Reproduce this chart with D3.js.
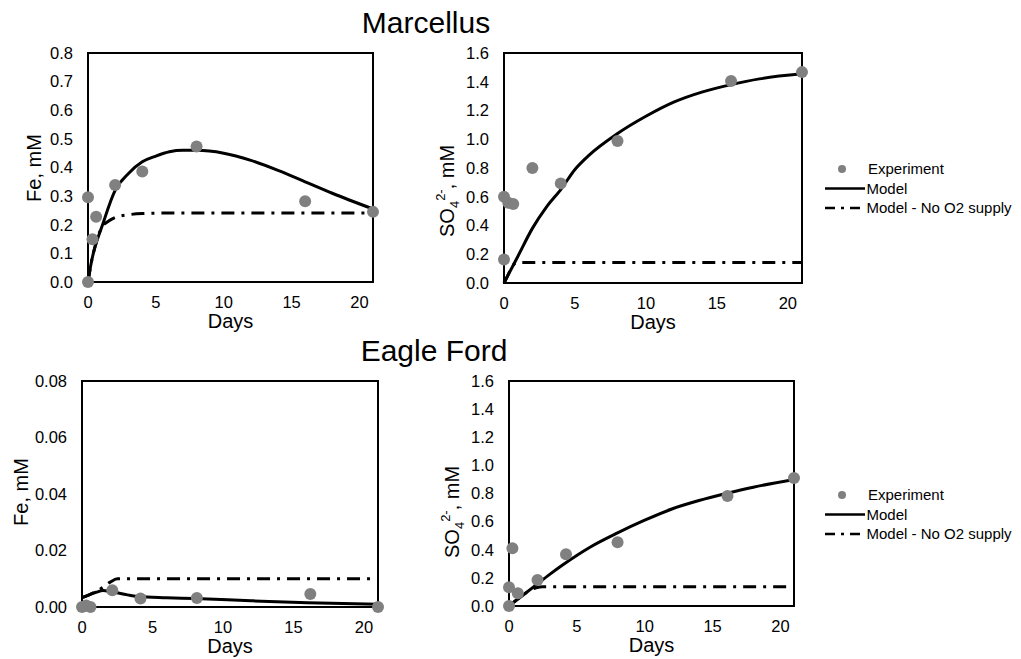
<!DOCTYPE html>
<html>
<head>
<meta charset="utf-8">
<script src="https://cdn.jsdelivr.net/npm/d3@7.9.0/dist/d3.min.js"></script>
<style>
  body { margin: 0; background: #fff; }
  svg { font-family: "Liberation Sans", Arial, sans-serif; }
</style>
</head>
<body>
<svg id="chart" width="1021" height="659"></svg>
<script>
// ---- data ----
const xTicks = [0, 5, 10, 15, 20];

// Marcellus, Fe
const marFeDays = [0, 0, 0.33, 0.6, 2, 4, 8, 16, 21];
const marFeExp = [0.296, 0, 0.149, 0.228, 0.339, 0.386, 0.473, 0.282, 0.245];
const marFeModelDays = [0, 0.25, 0.5, 1, 2, 3, 4, 5, 6, 7, 8, 10, 12, 14, 16, 18, 21];
const marFeModel = [0, 0.07, 0.12, 0.19, 0.32, 0.38, 0.42, 0.44, 0.455, 0.46, 0.46, 0.45, 0.425, 0.39, 0.35, 0.31, 0.255];
const marFeNoO2Days = [0, 0.25, 0.5, 0.75, 1, 1.5, 2, 3, 4, 6, 21];
const marFeNoO2 = [0, 0.07, 0.12, 0.16, 0.19, 0.212, 0.225, 0.235, 0.239, 0.241, 0.241];

// Marcellus, SO4
const marSo4Days = [0, 0, 0.3, 0.65, 2, 4, 8, 16, 21];
const marSo4Exp = [0.6, 0.163, 0.558, 0.55, 0.8, 0.693, 0.988, 1.406, 1.467];
const marSo4ModelDays = [0, 1, 2, 3, 4, 5, 6, 8, 10, 12, 14, 16, 18, 21];
const marSo4Model = [0, 0.19, 0.38, 0.53, 0.65, 0.79, 0.89, 1.04, 1.16, 1.26, 1.33, 1.38, 1.42, 1.455];
const marSo4NoO2Days = [0, 0.25, 0.5, 0.75, 1, 21];
const marSo4NoO2 = [0, 0.05, 0.1, 0.135, 0.142, 0.142];

// Eagle Ford, Fe
const efFeDays = [0, 0.3, 0.6, 2.15, 4.15, 8.15, 16.2, 21];
const efFeExp = [0, 0.0005, 0, 0.0059, 0.003, 0.0032, 0.0046, 0];
const efFeModelDays = [0, 0.5, 1, 1.5, 2, 3, 4, 6, 8, 12, 16, 21];
const efFeModel = [0.0033, 0.0043, 0.0052, 0.0058, 0.0055, 0.0045, 0.0037, 0.0033, 0.003, 0.0022, 0.0015, 0.001];
const efFeNoO2Days = [0, 0.5, 1, 1.5, 2, 2.5, 21];
const efFeNoO2 = [0.0033, 0.0043, 0.0055, 0.007, 0.0088, 0.01, 0.01];

// Eagle Ford, SO4
const efSo4Days = [0, 0, 0.25, 0.65, 2.1, 4.2, 8, 16.1, 21];
const efSo4Exp = [0, 0.133, 0.41, 0.09, 0.185, 0.368, 0.454, 0.783, 0.91];
const efSo4ModelDays = [0, 1, 2, 3, 4, 6, 8, 10, 12, 14, 16, 18, 21];
const efSo4Model = [0, 0.075, 0.15, 0.225, 0.295, 0.42, 0.52, 0.61, 0.69, 0.75, 0.8, 0.845, 0.9];
const efSo4NoO2Days = [0, 0.5, 1, 1.5, 2, 2.5, 21];
const efSo4NoO2 = [0, 0.04, 0.075, 0.11, 0.13, 0.137, 0.137];

const legendLabels = ['Experiment', 'Model', 'Model - No O2 supply'];

// ---- layout ----
const svg = d3.select('#chart');
const grey = '#808080';
const dashDot = '13,7,3,7';

const panels = [
  { left: 88, right: 373, top: 53, bottom: 282, ymax: 0.8, step: 0.1, fmt: '.1f',
    exp: [marFeDays, marFeExp], model: [marFeModelDays, marFeModel], noO2: [marFeNoO2Days, marFeNoO2],
    label: 'fe', lx: 41, ly: 168 },
  { left: 504, right: 802, top: 53, bottom: 283, ymax: 1.6, step: 0.2, fmt: '.1f',
    exp: [marSo4Days, marSo4Exp], model: [marSo4ModelDays, marSo4Model], noO2: [marSo4NoO2Days, marSo4NoO2],
    label: 'so4', lx: 454, ly: 237 },
  { left: 82, right: 378, top: 381, bottom: 607, ymax: 0.08, step: 0.02, fmt: '.2f',
    exp: [efFeDays, efFeExp], model: [efFeModelDays, efFeModel], noO2: [efFeNoO2Days, efFeNoO2],
    label: 'fe', lx: 28, ly: 492 },
  { left: 509, right: 794, top: 381, bottom: 606, ymax: 1.6, step: 0.2, fmt: '.1f',
    exp: [efSo4Days, efSo4Exp], model: [efSo4ModelDays, efSo4Model], noO2: [efSo4NoO2Days, efSo4NoO2],
    label: 'so4', lx: 459, ly: 558 }
];

const zip = (a, b) => a.map((d, i) => [d, b[i]]);

panels.forEach(p => {
  const x = d3.scaleLinear().domain([0, 21]).range([p.left, p.right]);
  const y = d3.scaleLinear().domain([0, p.ymax]).range([p.bottom, p.top]);
  const g = svg.append('g');

  // frame
  g.append('rect')
    .attr('x', p.left).attr('y', p.top)
    .attr('width', p.right - p.left).attr('height', p.bottom - p.top)
    .attr('fill', 'none').attr('stroke', '#000').attr('stroke-width', 2);

  // y ticks
  const yt = d3.range(0, p.ymax + p.step / 2, p.step);
  g.selectAll('.yt').data(yt).join('text')
    .attr('x', p.left - 15).attr('y', d => y(d)).attr('dy', '0.35em')
    .attr('text-anchor', 'end').attr('font-size', 16.5).attr('fill', '#000')
    .text(d => d3.format(p.fmt)(d));

  // x ticks
  g.selectAll('.xt').data(xTicks).join('text')
    .attr('x', d => x(d)).attr('y', p.bottom + 26)
    .attr('text-anchor', 'middle').attr('font-size', 16.5).attr('fill', '#000')
    .text(d => d);

  g.append('text')
    .attr('x', (p.left + p.right) / 2).attr('y', p.bottom + 46)
    .attr('text-anchor', 'middle').attr('font-size', 20).text('Days');

  // y label
  if (p.label === 'fe') {
    g.append('text')
      .attr('transform', `translate(${p.lx},${p.ly}) rotate(-90)`)
      .attr('text-anchor', 'middle').attr('font-size', 20).text('Fe, mM');
  } else {
    const t = g.append('text')
      .attr('transform', `translate(${p.lx},${p.ly}) rotate(-90)`)
      .attr('text-anchor', 'start').attr('font-size', 20);
    t.append('tspan').text('SO');
    t.append('tspan').attr('font-size', 13).attr('dy', 5).text('4');
    t.append('tspan').attr('font-size', 13).attr('dy', -14).text('2-');
    t.append('tspan').attr('dy', 9).text(', mM');
  }

  const line = d3.line().x(d => x(d[0])).y(d => y(d[1])).curve(d3.curveMonotoneX);

  g.append('path').datum(zip(p.noO2[0], p.noO2[1]))
    .attr('d', line).attr('fill', 'none').attr('stroke', '#000')
    .attr('stroke-width', 3).attr('stroke-dasharray', dashDot);

  g.append('path').datum(zip(p.model[0], p.model[1]))
    .attr('d', line).attr('fill', 'none').attr('stroke', '#000')
    .attr('stroke-width', 3);

  g.selectAll('circle').data(zip(p.exp[0], p.exp[1])).join('circle')
    .attr('cx', d => x(d[0])).attr('cy', d => y(d[1])).attr('r', 6)
    .attr('fill', grey);
});

// titles
svg.append('text').attr('x', 426).attr('y', 33).attr('text-anchor', 'middle')
  .attr('font-size', 30).text('Marcellus');
svg.append('text').attr('x', 434).attr('y', 361).attr('text-anchor', 'middle')
  .attr('font-size', 30).text('Eagle Ford');

// legends
[169, 495].forEach(ly => {
  const g = svg.append('g');
  g.append('circle').attr('cx', 842).attr('cy', ly).attr('r', 4).attr('fill', grey);
  g.append('line').attr('x1', 825).attr('x2', 865).attr('y1', ly + 19.5).attr('y2', ly + 19.5)
    .attr('stroke', '#000').attr('stroke-width', 2.5);
  g.append('line').attr('x1', 825).attr('x2', 865).attr('y1', ly + 39).attr('y2', ly + 39)
    .attr('stroke', '#000').attr('stroke-width', 2.5).attr('stroke-dasharray', '10,6,3,6');
  g.selectAll('text').data(legendLabels).join('text')
    .attr('x', (d, i) => i === 0 ? 868 : 866.5)
    .attr('y', (d, i) => ly + 5 + i * 19.5)
    .attr('font-size', 15).text(d => d);
});
</script>
</body>
</html>
